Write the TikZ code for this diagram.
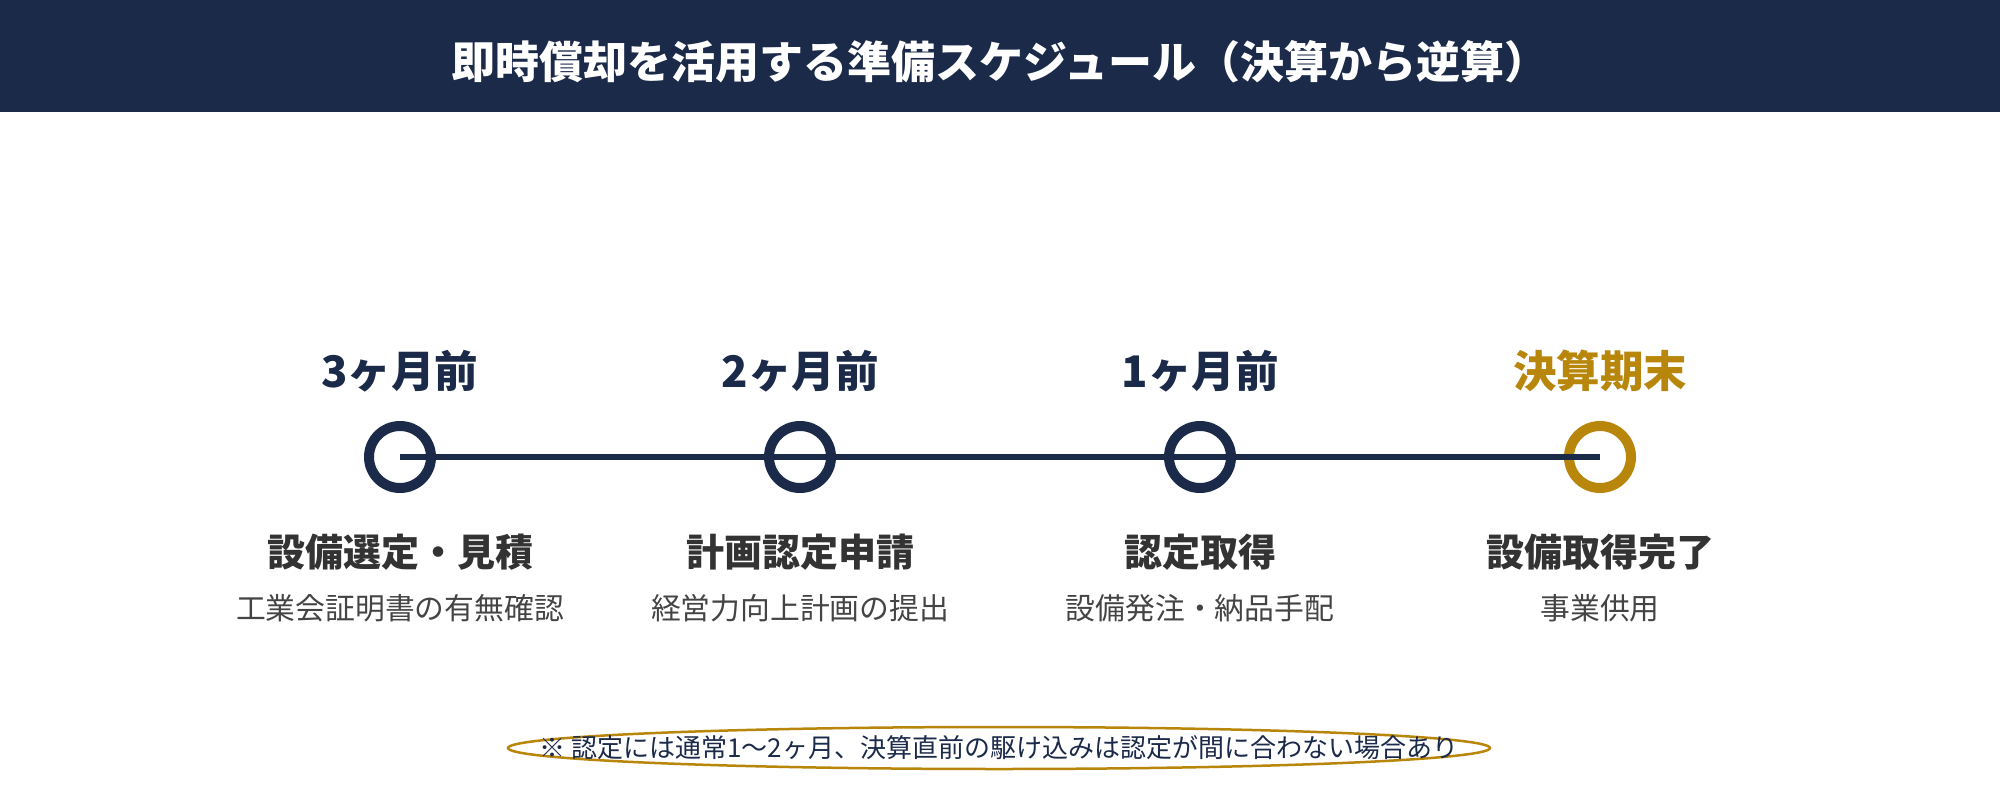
\documentclass[tikz,border=0pt]{standalone}
\usepackage{fontspec}
\setmainfont{Noto Sans CJK JP}
\usetikzlibrary{shapes.geometric}
\definecolor{navy}{HTML}{1C2A4A}
\definecolor{gold}{HTML}{B8860B}
\definecolor{ink}{HTML}{333333}
\definecolor{subink}{HTML}{444444}
\begin{document}
\begin{tikzpicture}[x=1pt,y=-1pt,
  titletext/.style={font=\fontsize{44}{50}\selectfont\bfseries, text=white, inner sep=0pt},
  whentext/.style={font=\fontsize{43.5}{50}\selectfont\bfseries, text=navy, inner sep=0pt},
  steptext/.style={font=\fontsize{38}{44}\selectfont\bfseries, text=ink, inner sep=0pt},
  subtext/.style={font=\fontsize{29.8}{34}\selectfont, text=subink, inner sep=0pt},
  dot/.style={circle, draw=navy, fill=white, line width=10pt, minimum size=62pt, inner sep=0pt},
  tline/.style={draw=navy, line width=6pt},
  notetext/.style={text=navy, font=\fontsize{26}{30}\selectfont, inner sep=0pt},
  noteoval/.style={draw=gold, line width=2.5pt}
]
\useasboundingbox (0,0) rectangle (2000,800);
\fill[navy] (0,0) rectangle (2000,112);
\node[titletext] (title) at (1000,62) {即時償却を活用する準備スケジュール（決算から逆算）};

\node[dot] (c1) at (400,457) {};
\node[dot] (c2) at (800,457) {};
\node[dot] (c3) at (1200,457) {};
\node[dot, draw=gold] (c4) at (1600,457) {};
\draw[tline] (c1.center) -- (c4.center);

\node[whentext] (w1) at (400,371) {3ヶ月前};
\node[whentext] (w2) at (800,371) {2ヶ月前};
\node[whentext] (w3) at (1200,371) {1ヶ月前};
\node[whentext, text=gold] (w4) at (1600,371) {決算期末};

\node[steptext] (s1) at (400,552) {設備選定・見積};
\node[steptext] (s2) at (800,552) {計画認定申請};
\node[steptext] (s3) at (1200,552) {認定取得};
\node[steptext] (s4) at (1600,552) {設備取得完了};

\node[subtext] (d1) at (400,608) {工業会証明書の有無確認};
\node[subtext] (d2) at (800,608) {経営力向上計画の提出};
\node[subtext] (d3) at (1200,608) {設備発注・納品手配};
\node[subtext] (d4) at (1600,608) {事業供用};

\coordinate (nc) at (999,748);
\draw[noteoval] (nc) ellipse [x radius=491pt, y radius=21pt];
\node[notetext] (note) at (nc) {※ 認定には通常1〜2ヶ月、決算直前の駆け込みは認定が間に合わない場合あり};
\end{tikzpicture}
\end{document}
